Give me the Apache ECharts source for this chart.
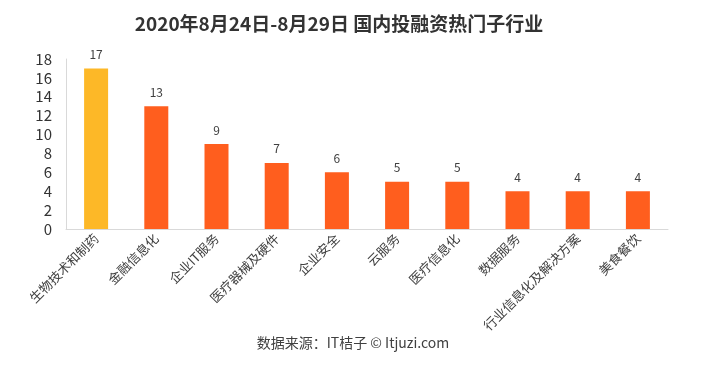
<!DOCTYPE html>
<html><head><meta charset="utf-8">
<script src="https://cdn.jsdelivr.net/npm/echarts@6/dist/echarts.min.js"></script>
<style>html,body{margin:0;padding:0;background:#fff}#c{width:706px;height:366px}</style>
</head><body><div id="c"></div>
<script>
const categories = ['生物技术和制药','金融信息化','企业IT服务','医疗器械及硬件','企业安全','云服务','医疗信息化','数据服务','行业信息化及解决方案','美食餐饮'];
const values = [17,13,9,7,6,5,5,4,4,4];
const barColors = ['#FDB827','#FF5E1E','#FF5E1E','#FF5E1E','#FF5E1E','#FF5E1E','#FF5E1E','#FF5E1E','#FF5E1E','#FF5E1E'];
const chart = echarts.init(document.getElementById('c'));
const font = '"Noto Sans CJK SC","Noto Sans",sans-serif';
chart.setOption({
  animation:false,
  title:{text:'2020年8月24日-8月29日 国内投融资热门子行业',left:334,textAlign:'center',top:9,
    textStyle:{fontSize:19,fontWeight:'bold',color:'#333',fontFamily:font}},
  graphic:[{type:'text',left:'center',top:336,style:{text:'数据来源：IT桔子 © Itjuzi.com',fontSize:14,fill:'#404040',fontFamily:font}}],
  grid:{left:66,right:38,top:59,bottom:137},
  xAxis:{type:'category',data:categories,
    axisLine:{lineStyle:{color:'#d9d9d9'}},axisTick:{show:false},
    axisLabel:{rotate:45,interval:0,margin:7,fontSize:13,color:'#404040',fontFamily:font}},
  yAxis:{type:'value',min:0,max:18,interval:2,
    axisLine:{show:true,lineStyle:{color:'#d9d9d9'}},splitLine:{show:false},axisTick:{show:false},
    axisLabel:{fontSize:15,color:'#333',margin:14,fontFamily:font}},
  series:[{type:'bar',barWidth:24,
    data:values.map((v,i)=>({value:v,itemStyle:{color:barColors[i]}})),
    label:{show:true,position:'top',distance:8,fontSize:12,color:'#404040',fontFamily:font}}]
});
</script></body></html>
